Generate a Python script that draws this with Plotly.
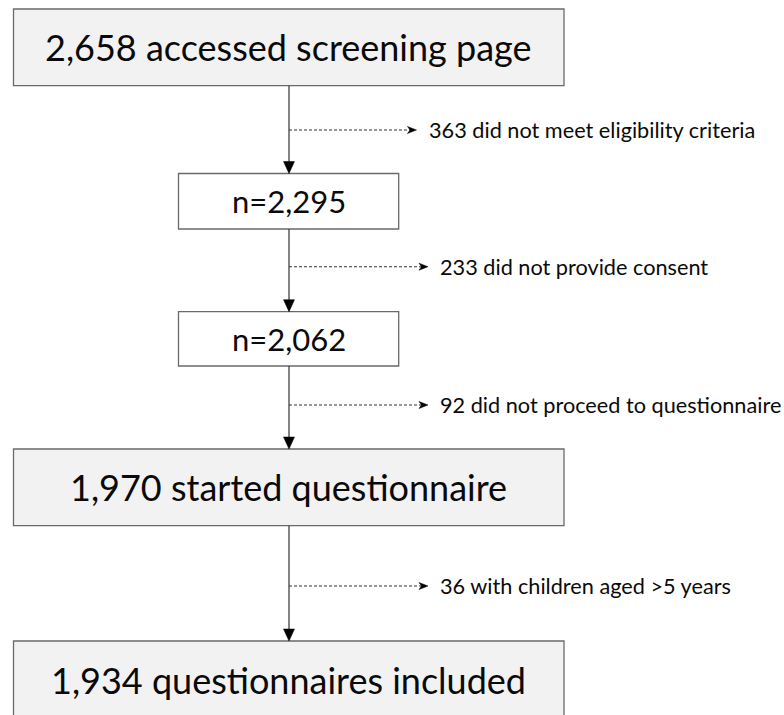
import plotly.graph_objects as go

# ---- data ----
main_counts = [2658, 2295, 2062, 1970, 1934]
main_prefix = ["", "n=", "n=", "", ""]
main_suffix = [" accessed screening page", "", "", " started questionnaire", " questionnaires included"]
excl_counts = [363, 233, 92, 36]
excl_suffix = [" did not meet eligibility criteria", " did not provide consent",
               " did not proceed to questionnaire", " with children aged >5 years"]

# ---- layout constants (canvas pixel units) ----
W, H = 784, 715
CX = 289
WIDE = (13.5, 564)
NARROW = (178.5, 398.7)
box_wide = [True, False, False, True, True]
box_top = [9, 173.5, 311.7, 449, 641]
box_bottom = [85.7, 229, 366, 525.7, 718]
excl_y = [130, 266.7, 405, 586]
excl_tip = [416.5, 428, 428, 428]

FONT = "Lato, 'Open Sans', sans-serif"
BORDER = "#6a6a6a"
LINE = "#333333"

fig = go.Figure()
# invisible trace to establish axes
fig.add_trace(go.Scatter(x=[0, W], y=[0, H], mode="markers", marker=dict(opacity=0), hoverinfo="skip", showlegend=False))

shapes = []
annotations = []
for i, c in enumerate(main_counts):
    x0, x1 = WIDE if box_wide[i] else NARROW
    fill = "#f2f2f2" if box_wide[i] else "#ffffff"
    shapes.append(dict(type="rect", xref="x", yref="y", x0=x0, x1=x1, y0=box_top[i], y1=box_bottom[i],
                       line=dict(color=BORDER, width=1.3), fillcolor=fill, layer="below"))
    label = f"{main_prefix[i]}{c:,}{main_suffix[i]}"
    size = 36 if box_wide[i] else 31
    annotations.append(dict(x=(x0 + x1) / 2, y=(box_top[i] + box_bottom[i]) / 2, xref="x", yref="y",
                            text=label, showarrow=False, font=dict(family=FONT, size=size, color="#0a0a0a"),
                            xanchor="center", yanchor="middle"))

# main vertical arrows
for i in range(len(main_counts) - 1):
    y0 = box_bottom[i]
    y1 = box_top[i + 1]
    shapes.append(dict(type="line", xref="x", yref="y", x0=CX, x1=CX, y0=y0, y1=y1 - 10,
                       line=dict(color=LINE, width=1.2)))
    shapes.append(dict(type="path", xref="x", yref="y",
                       path=f"M {CX-5.5},{y1-12} L {CX+5.5},{y1-12} L {CX},{y1} Z",
                       fillcolor="#000000", line=dict(color="#000000", width=0.5)))

# exclusion dashed arrows
for i, c in enumerate(excl_counts):
    y = excl_y[i]
    tip = excl_tip[i]
    shapes.append(dict(type="line", xref="x", yref="y", x0=CX, x1=tip - 6, y0=y, y1=y,
                       line=dict(color=LINE, width=1.1, dash="3px,2px")))
    shapes.append(dict(type="path", xref="x", yref="y",
                       path=f"M {tip-9},{y-3.5} L {tip},{y} L {tip-9},{y+3.5} L {tip-6.5},{y} Z",
                       fillcolor="#000000", line=dict(color="#000000", width=0.5)))
    annotations.append(dict(x=tip + 10, y=y, xref="x", yref="y", text=f"{c}{excl_suffix[i]}",
                            showarrow=False, font=dict(family=FONT, size=21.7, color="#0a0a0a"),
                            xanchor="left", yanchor="middle"))

fig.update_layout(
    width=W, height=H, margin=dict(l=0, r=0, t=0, b=0),
    paper_bgcolor="white", plot_bgcolor="white",
    xaxis=dict(range=[0, W], visible=False, fixedrange=True),
    yaxis=dict(range=[H, 0], visible=False, fixedrange=True),
    shapes=shapes, annotations=annotations, showlegend=False,
)
fig.write_html("out.html", config={"displayModeBar": False},
               post_script="document.body.style.margin='0';document.body.style.overflow='hidden';")
